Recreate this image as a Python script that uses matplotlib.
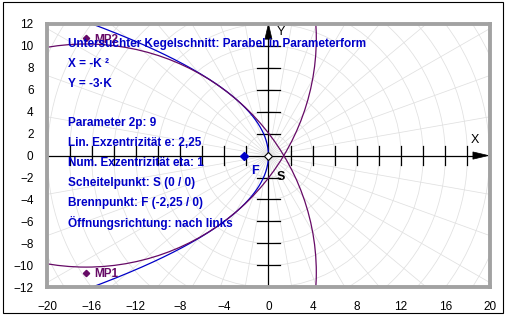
import numpy as np
import matplotlib.pyplot as plt
from matplotlib.patches import Circle, Rectangle, Polygon

# --- Kegelschnitt: X = -K^2, Y = -3K ---
K_RANGE = (-4.2, 4.2)
FOCUS = (-2.25, 0.0)
VERTEX = (0.0, 0.0)

# Kruemmungskreise (Mittelpunkte MP1/MP2)
mp_x = [-16.5, -16.5]
mp_y = [-10.67, 10.67]
mp_names = ["MP1", "MP2"]
mp_radius = 20.83

# Achsenbeschriftung
x_ticks = [-20, -16, -12, -8, -4, 0, 4, 8, 12, 16, 20]
y_ticks = [-12, -10, -8, -6, -4, -2, 0, 2, 4, 6, 8, 10, 12]
axis_marks_x = [-18, -16, -14, -12, -10, -8, -6, -4, -2, 2, 4, 6, 8, 10, 12, 14, 16, 18]
axis_marks_y = [-10, -8, -6, -4, -2, 2, 4, 6, 8, 10]

info_lines = [
    "Untersuchter Kegelschnitt: Parabel in Parameterform",
    "X = -K \u00b2",
    "Y = -3\u00b7K",
    "",
    "Parameter 2p: 9",
    "Lin. Exzentrizit\u00e4t e: 2,25",
    "Num. Exzentrizit\u00e4t eta: 1",
    "Scheitelpunkt: S (0 / 0)",
    "Brennpunkt: F (-2,25 / 0)",
    "\u00d6ffnungsrichtung: nach links",
]

BLUE = "#0000c8"
PURPLE = "#660a66"
GRID = "#e0e0e0"
FONT = "Liberation Sans"

plt.rcParams["font.family"] = [FONT, "DejaVu Sans"]

fig = plt.figure(figsize=(5.15, 3.24), dpi=100)
ax = fig.add_axes([47.4 / 515, (324 - 287.3) / 324, 442.1 / 515, 263.5 / 324])
ax.set_xlim(-20, 20)
ax.set_ylim(-12, 12)

# polares Hintergrundgitter
for r in range(2, 26, 2):
    ax.add_patch(Circle((0, 0), r, fill=False, ec=GRID, lw=0.55, zorder=1))
for ang in np.deg2rad(np.arange(0, 360, 10)):
    ax.plot([0, 30 * np.cos(ang)], [0, 30 * np.sin(ang)], color=GRID, lw=0.55, zorder=1)

# Koordinatenachsen mit Pfeilen
ax.plot([-20, 18.8], [0, 0], color="black", lw=0.9, zorder=3)
ax.plot([0, 0], [-12, 11.0], color="black", lw=0.9, zorder=3)
ax.add_patch(Polygon([(19.9, 0), (18.5, 0.33), (18.5, -0.33)], closed=True,
                     fc="black", ec="black", lw=0.5, zorder=3))
ax.add_patch(Polygon([(0, 12.0), (-0.32, 10.6), (0.32, 10.6)], closed=True,
                     fc="black", ec="black", lw=0.5, zorder=3))
for t in axis_marks_x:
    ax.plot([t, t], [-0.85, 0.85], color="black", lw=0.9, zorder=3)
for t in axis_marks_y:
    ax.plot([-1.0, 1.0], [t, t], color="black", lw=0.9, zorder=3)
ax.text(18.7, 1.4, "X", fontsize=9, ha="center", va="center", zorder=5)
ax.text(1.1, 11.25, "Y", fontsize=9, ha="center", va="center", zorder=5)

# Parabel
K = np.linspace(K_RANGE[0], K_RANGE[1], 400)
ax.plot(-K ** 2, -3 * K, color=BLUE, lw=0.9, zorder=4)

# Kruemmungskreise
for cx, cy, name in zip(mp_x, mp_y, mp_names):
    ax.add_patch(Circle((cx, cy), mp_radius, fill=False, ec=PURPLE, lw=0.9, zorder=4))
    ax.plot(cx, cy, marker="D", ms=3.2, color=PURPLE, zorder=5)
    ax.text(cx + 0.75, cy - 0.1, name, color=PURPLE, fontsize=8.5, fontweight="bold",
            ha="left", va="center", zorder=6)

# Brennpunkt und Scheitel
ax.plot(*FOCUS, marker="D", ms=3.8, color=BLUE, zorder=5)
ax.plot(*VERTEX, marker="D", ms=4.5, mfc="white", mec="black", mew=0.8, zorder=5)
ax.text(-1.2, -1.45, "F", color=BLUE, fontsize=9, fontweight="bold",
        ha="center", va="center", zorder=6)
ax.text(1.1, -1.95, "S", color="black", fontsize=9, fontweight="bold",
        ha="center", va="center", zorder=6)

# Infotext
y0 = 10.2
for i, line in enumerate(info_lines):
    ax.text(-18.1, y0 - i * 1.82, line, color=BLUE, fontsize=8.5, fontweight="bold",
            ha="left", va="center", zorder=6)

ax.set_xticks(x_ticks)
ax.set_yticks(y_ticks)
ax.tick_params(length=0, labelsize=8.5)
ax.tick_params(axis="x", pad=10)
ax.tick_params(axis="y", pad=10)
for s in ax.spines.values():
    s.set_color("#a2a2a2")
    s.set_linewidth(2.8)
    s.set_zorder(7)

# Rahmen um die ganze Grafik
fig.add_artist(Rectangle((3 / 515, 11 / 324), 500 / 515, 311 / 324,
                         transform=fig.transFigure, fill=False, ec="black", lw=0.8))

fig.savefig("out.png", dpi=100)
